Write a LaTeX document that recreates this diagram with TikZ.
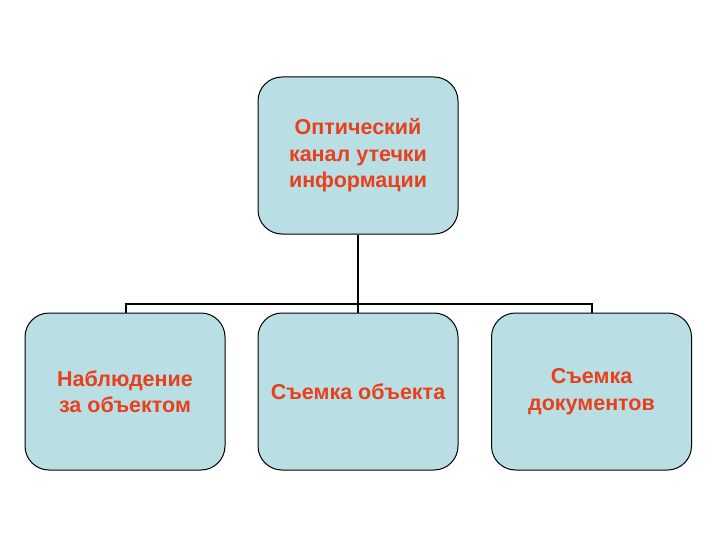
\documentclass[tikz,border=0pt]{standalone}
\usepackage{fontspec}
\setmainfont{Liberation Sans}
\definecolor{boxfill}{HTML}{B9DEE3}
\definecolor{txt}{HTML}{E8401C}
\begin{document}
\begin{tikzpicture}[x=1pt,y=-1pt,
  card/.style={draw=black, line width=1pt, fill=boxfill, rounded corners=24pt,
    minimum width=200pt, minimum height=157pt, inner sep=0pt, align=center,
    text=txt, font=\bfseries\fontsize{21.5}{26.5}\selectfont},
  link/.style={draw=black, line width=2pt}]
\useasboundingbox (0,0) rectangle (720,540);
\node[card] (top) at (358,155.5) {Оптический\\канал утечки\\информации};
\node[card] (l) at (125,391.5) {Наблюдение\\за объектом};
\node[card] (m) at (358,391.5) {Съемка объекта};
\node[card] (r) at (591.5,391.5) {Съемка\\документов};
\coordinate (bl) at (126,304);
\coordinate (br) at (592,304);
\draw[link] (top.south) -- (m.north);
\draw[link] (l.north -| bl) -- (bl) -- (br) -- (r.north -| br);
\end{tikzpicture}
\end{document}
